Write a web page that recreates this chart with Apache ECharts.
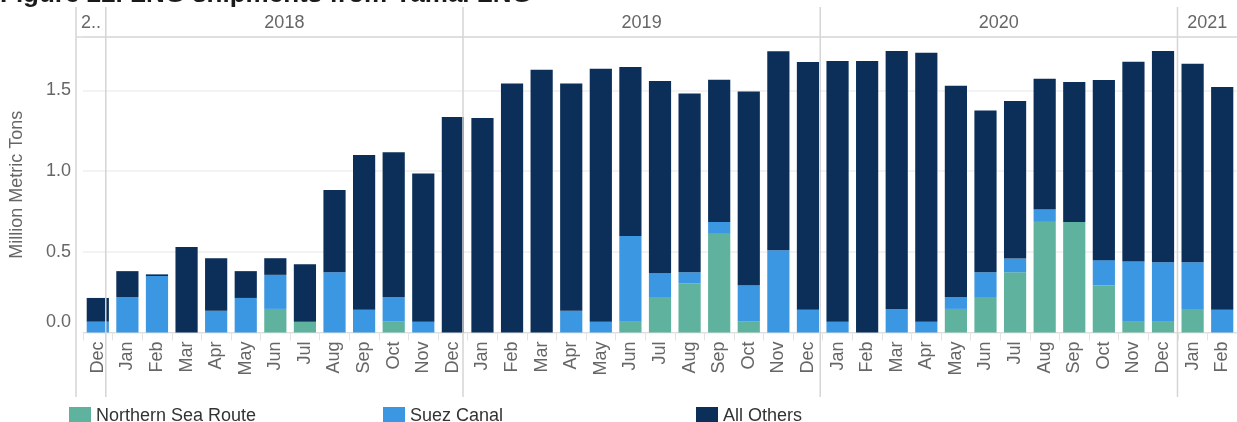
<!DOCTYPE html>
<html>
<head>
<meta charset="utf-8">
<title>LNG shipments from Yamal LNG</title>
<script src="https://cdn.jsdelivr.net/npm/echarts@6.0.0/dist/echarts.min.js"></script>
<style>
    html, body { margin: 0; padding: 0; background: #fff; }
    #chart { width: 1237px; height: 422px; }
</style>
</head>
<body>
<div id="chart"></div>
<script>
// months Dec 2017 .. Feb 2021
var months = ['Dec',
    'Jan', 'Feb', 'Mar', 'Apr', 'May', 'Jun', 'Jul', 'Aug', 'Sep', 'Oct', 'Nov', 'Dec',
    'Jan', 'Feb', 'Mar', 'Apr', 'May', 'Jun', 'Jul', 'Aug', 'Sep', 'Oct', 'Nov', 'Dec',
    'Jan', 'Feb', 'Mar', 'Apr', 'May', 'Jun', 'Jul', 'Aug', 'Sep', 'Oct', 'Nov', 'Dec',
    'Jan', 'Feb'];

// year header: name + number of months under it
var yearNames = ['2017', '2018', '2019', '2020', '2021'];
var yearSpans = [1, 12, 12, 12, 2];

// million metric tons, per route
var northernSeaRoute = [0,
    0, 0, 0, 0, 0, 0.146, 0.067, 0, 0, 0.067, 0, 0,
    0, 0, 0, 0, 0, 0.067, 0.22, 0.305, 0.611, 0.067, 0, 0,
    0, 0, 0, 0, 0.146, 0.22, 0.373, 0.685, 0.685, 0.293, 0.067, 0.067,
    0.146, 0];
var suezCanal = [0.067,
    0.22, 0.35, 0, 0.135, 0.214, 0.211, 0, 0.373, 0.141, 0.153, 0.067, 0,
    0, 0, 0, 0.135, 0.067, 0.531, 0.147, 0.068, 0.074, 0.226, 0.51, 0.141,
    0.067, 0, 0.146, 0.067, 0.074, 0.153, 0.085, 0.079, 0, 0.155, 0.372, 0.368,
    0.289, 0.141];
var allOthers = [0.147,
    0.16, 0.01, 0.53, 0.325, 0.166, 0.103, 0.356, 0.509, 0.959, 0.897, 0.918, 1.334,
    1.328, 1.542, 1.627, 1.407, 1.567, 1.046, 1.19, 1.107, 0.88, 1.2, 1.231, 1.534,
    1.614, 1.681, 1.597, 1.666, 1.308, 1.002, 0.975, 0.808, 0.866, 1.115, 1.238, 1.308,
    1.23, 1.379];

var seriesNames = ['Northern Sea Route', 'Suez Canal', 'All Others'];
var seriesColors = ['#5eb29e', '#3b97e1', '#0b2f59'];

var FONT = '"Liberation Sans", Arial, sans-serif';
var GREY = '#666666';

var chart = echarts.init(document.getElementById('chart'));

// start/end (in months) of each year band
var yearBands = [];
var acc = 0;
for (var i = 0; i < yearSpans.length; i++) {
    yearBands.push([acc, acc + yearSpans[i]]);
    acc += yearSpans[i];
}

function renderYear(params, api) {
    var s = api.value(0), e = api.value(1);
    var x0 = api.coord([s, 0])[0];
    var x1 = api.coord([e, 0])[0];
    var top = api.coord([0, 1])[1];
    var bot = api.coord([0, 0])[1];
    var name = yearNames[params.dataIndex];
    // too narrow band gets a truncated label like tableau does
    var label = (e - s) < 2 ? name.charAt(0) + '..' : name;
    return {
        type: 'group',
        children: [
            {type: 'line', shape: {x1: x0, y1: top, x2: x0, y2: 397},
                style: {stroke: '#d5d5d5', lineWidth: 1.5}},
            {type: 'line', shape: {x1: x0, y1: bot, x2: x1, y2: bot},
                style: {stroke: '#d9d9d9', lineWidth: 1.5}},
            {type: 'text', style: {text: label, x: (x0 + x1) / 2, y: (top + bot) / 2 + 1,
                align: 'center', verticalAlign: 'middle', fill: GREY,
                fontSize: 18, fontFamily: FONT}}
        ]
    };
}

function barSeries(idx, data) {
    return {
        name: seriesNames[idx],
        type: 'bar',
        stack: 'total',
        xAxisIndex: 0,
        yAxisIndex: 0,
        barCategoryGap: '25%',
        itemStyle: {color: seriesColors[idx]},
        emphasis: {disabled: true},
        data: data
    };
}

// one legend per item so they sit in equal slots like the original
var legendLefts = [64, 378, 691];
var legends = [];
for (var k = 0; k < seriesNames.length; k++) {
    legends.push({
        left: legendLefts[k],
        top: 402,
        itemWidth: 22,
        itemHeight: 19,
        icon: 'rect',
        selectedMode: false,
        textStyle: {fontSize: 18, color: '#333', fontFamily: FONT},
        data: [seriesNames[k]]
    });
}

var option = {
    animation: false,
    backgroundColor: '#ffffff',
    title: {
        text: 'Figure 22. LNG shipments from Yamal LNG',
        left: 0,
        top: -18,
        padding: 0,
        textStyle: {fontSize: 26, fontWeight: 'bold', color: '#1a1a1a', fontFamily: FONT}
    },
    legend: legends,
    grid: [
        {left: 76, right: 0, top: 37, bottom: 89.5},
        {left: 76, right: 0, top: 7, height: 30}
    ],
    xAxis: [
        {
            type: 'category',
            gridIndex: 0,
            data: months,
            axisLine: {show: true, lineStyle: {color: '#dddddd'}},
            axisTick: {show: true, interval: 0, length: 8, lineStyle: {color: '#e4e4e4'}},
            axisLabel: {interval: 0, rotate: 90, margin: 9, fontSize: 18, color: GREY, fontFamily: FONT},
            splitLine: {show: false}
        },
        {type: 'value', gridIndex: 1, min: 0, max: months.length, show: false}
    ],
    yAxis: [
        {
            type: 'value',
            gridIndex: 0,
            min: 0,
            max: 1.83,
            interval: 0.5,
            name: 'Million Metric Tons',
            nameLocation: 'middle',
            nameGap: 57,
            nameTextStyle: {fontSize: 18, color: GREY, fontFamily: FONT},
            axisLine: {show: false},
            axisTick: {show: false},
            axisLabel: {
                margin: 12, fontSize: 18, color: GREY, fontFamily: FONT,
                formatter: function (v) {
                    if (v === 0) return '{z|0.0}';
                    if (Math.abs(v * 2 - Math.round(v * 2)) > 1e-6) return '';
                    return v.toFixed(1);
                },
                rich: {z: {fontSize: 18, color: GREY, fontFamily: FONT, padding: [0, 0, 20, 0]}}
            },
            splitLine: {lineStyle: {color: '#efefef', width: 1.5}}
        },
        {type: 'value', gridIndex: 1, min: 0, max: 1, show: false}
    ],
    series: [
        barSeries(0, northernSeaRoute),
        barSeries(1, suezCanal),
        barSeries(2, allOthers),
        {
            type: 'custom',
            xAxisIndex: 1,
            yAxisIndex: 1,
            clip: false,
            silent: true,
            renderItem: renderYear,
            encode: {x: [0, 1]},
            data: yearBands,
            z: 5
        }
    ]
};

chart.setOption(option);
</script>
</body>
</html>
